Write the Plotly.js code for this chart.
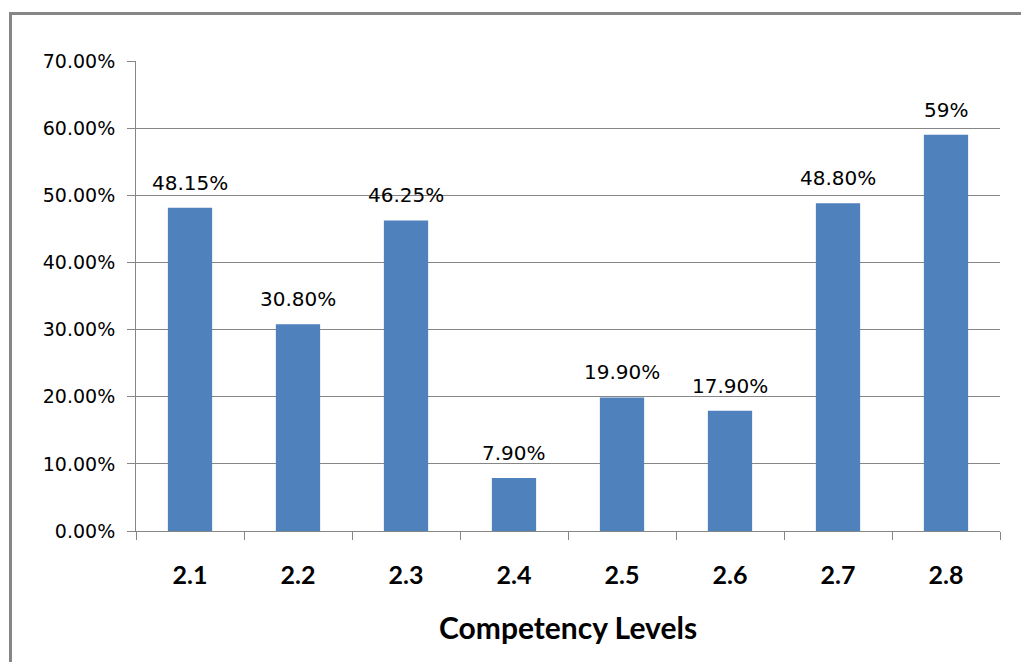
<!DOCTYPE html>
<html>
<head>
<meta charset="utf-8">
<script src="https://cdn.plot.ly/plotly-3.0.1.min.js"></script>
<style>
html,body{margin:0;padding:0;background:#fff;}
#wrap{position:relative;width:1021px;height:662px;}
#frame{position:absolute;left:9px;top:12px;width:1030px;height:700px;border-top:3px solid #868686;border-left:3px solid #868686;pointer-events:none;z-index:5;}
#chart{position:absolute;left:0;top:0;width:1021px;height:662px;}
</style>
</head>
<body>
<div id="wrap">
<div id="chart"></div>
<div id="frame"></div>
</div>
<script>
const categories = ["2.1","2.2","2.3","2.4","2.5","2.6","2.7","2.8"];
const values = [48.15, 30.80, 46.25, 7.90, 19.90, 17.90, 48.80, 59];
const valueLabels = ["48.15%","30.80%","46.25%","7.90%","19.90%","17.90%","48.80%","59%"];
const yTicks = [0,10,20,30,40,50,60,70];
const yTickLabels = ["0.00%","10.00%","20.00%","30.00%","40.00%","50.00%","60.00%","70.00%"];
const xTitle = "Competency Levels";

const barTrace = {
  type: "bar",
  x: categories,
  y: values,
  marker: {color: "#4F81BD", line: {width: 0}},
  hoverinfo: "none"
};

const annotations = categories.map((c, i) => ({
  x: i, y: values[i], xref: "x", yref: "y",
  text: valueLabels[i], showarrow: false,
  yanchor: "bottom", yshift: 11,
  font: {family: "DejaVu Sans", size: 20, color: "#000"}
}));
annotations.push({
  xref: "paper", yref: "paper", x: 0.5, y: -(627 - 531) / 470,
  yanchor: "middle", xanchor: "center",
  text: "<b>" + xTitle + "</b>", showarrow: false,
  font: {family: "Lato", size: 30, color: "#000"}
});

const layout = {
  width: 1021, height: 662,
  margin: {l: 136, r: 21, t: 61, b: 131},
  paper_bgcolor: "#fff", plot_bgcolor: "#fff",
  showlegend: false,
  bargap: 0.59,
  xaxis: {
    type: "category",
    showline: true, linecolor: "#868686", linewidth: 1,
    ticks: "outside", tickson: "boundaries", ticklen: 8, tickcolor: "#868686",
    ticklabelstandoff: 22,
    tickfont: {family: "Lato", size: 25, color: "#000", weight: "bold"},
    showgrid: false, zeroline: false, fixedrange: true
  },
  yaxis: {
    range: [0, 70],
    tickvals: yTicks, ticktext: yTickLabels,
    showline: true, linecolor: "#868686", linewidth: 1,
    ticks: "outside", ticklen: 8, tickcolor: "#868686",
    ticklabelstandoff: 8,
    tickfont: {family: "DejaVu Sans", size: 19, color: "#000"},
    showgrid: true, gridcolor: "#868686", gridwidth: 1,
    zeroline: false, fixedrange: true
  },
  annotations: annotations
};

Plotly.newPlot("chart", [barTrace], layout, {staticPlot: true, displayModeBar: false});
</script>
</body>
</html>
